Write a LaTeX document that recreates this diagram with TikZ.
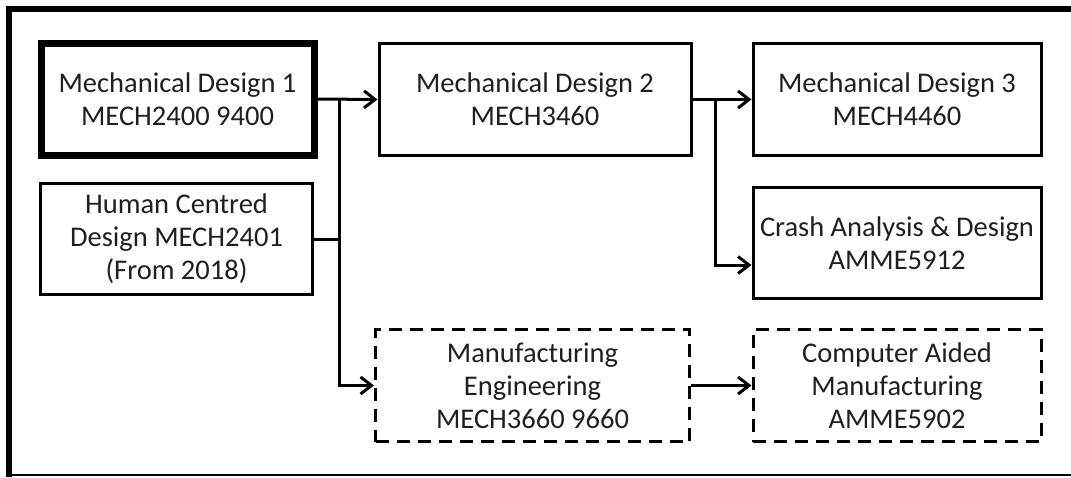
\documentclass[tikz,border=0pt]{standalone}
\usepackage{fontspec}
\setmainfont{Carlito}
\usetikzlibrary{arrows.meta}
\tikzset{
  box/.style={draw=black, line width=3pt, align=center, inner sep=0pt,
    font=\fontsize{28.5pt}{33pt}\selectfont, text=black!88},
  thickbox/.style={box, line width=7pt},
  dashbox/.style={box, dash pattern=on 13pt off 8pt},
  conn/.style={line width=3pt, draw=black},
  arr/.style={conn, -{Straight Barb[length=11pt,width=17pt,line width=3pt]}},
  frame/.style={draw=black}
}
\begin{document}
\begin{tikzpicture}[x=1pt,y=-1pt]
\useasboundingbox (0,0) rectangle (1071,477);
% frame
\draw[frame, line width=6pt] (6,9) -- (1071,9);
\draw[frame, line width=6pt] (9,6) -- (9,477);
\draw[frame, line width=2pt] (6,475) -- (1071,475);
% nodes
\node[thickbox, minimum width=273pt, minimum height=112pt] (md1) at (177.5,99) {Mechanical Design 1\\MECH2400 9400};
\node[box, minimum width=272pt, minimum height=111pt] (hcd) at (176.5,239) {Human Centred\\Design MECH2401\\(From 2018)};
\node[box, minimum width=312pt, minimum height=112pt] (md2) at (535,99.5) {Mechanical Design 2\\MECH3460};
\node[box, minimum width=288pt, minimum height=112pt] (md3) at (897,99.5) {Mechanical Design 3\\MECH4460};
\node[box, minimum width=288pt, minimum height=111pt] (crash) at (897,243) {Crash Analysis \& Design\\AMME5912};
\node[dashbox, minimum width=314pt, minimum height=112pt] (me) at (532.5,385.5) {Manufacturing\\Engineering\\MECH3660 9660};
\node[dashbox, minimum width=288pt, minimum height=112pt] (cam) at (897,385.5) {Computer Aided\\Manufacturing\\AMME5902};
% junctions
\coordinate (j1) at (339,99);
\coordinate (j2) at (715,99.5);
\coordinate (c2) at ([yshift=-22pt]crash.west);
% connectors
\draw[arr] (md1.east) -- (md2.west);
\draw[conn] (hcd.east) -- (hcd.east -| j1);
\draw[arr] (j1) |- (me.west);
\draw[arr] (md2.east) -- (md3.west);
\draw[arr] (j2) |- (c2);
\draw[arr] (me.east) -- (cam.west);
\end{tikzpicture}
\end{document}
